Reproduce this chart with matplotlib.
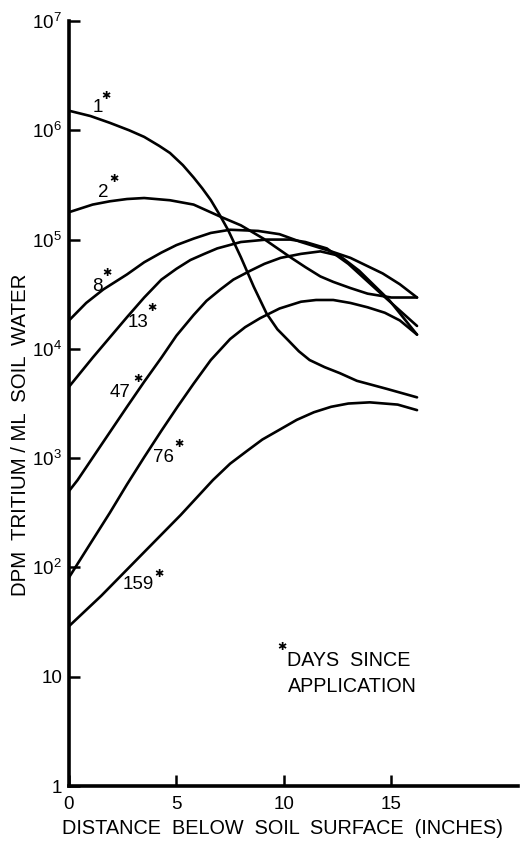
import matplotlib
matplotlib.use('Agg')
import matplotlib.pyplot as plt

plt.rcParams['font.family'] = ['Liberation Sans', 'DejaVu Sans']

# ---- data ----
x_day1 = [0, 1.0, 1.9, 2.8, 3.5, 4.2, 4.7, 5.3, 5.8, 6.2, 6.6, 7.0, 7.4, 8.0, 8.6, 9.2, 9.7,
          10.2, 10.7, 11.2, 11.9, 12.6, 13.4, 14.8, 16.2]
y_day1 = [1.51e6, 1.35e6, 1.17e6, 1.0e6, 8.7e5, 7.2e5, 6.2e5, 4.8e5, 3.7e5, 2.95e5, 2.3e5,
          1.70e5, 1.23e5, 6.9e4, 3.7e4, 2.1e4, 1.51e4, 1.2e4, 9.5e3, 7.9e3, 6.8e3, 6.0e3,
          5.1e3, 4.3e3, 3.6e3]

x_day2 = [0, 1.1, 1.9, 2.7, 3.5, 4.7, 5.8, 7.05, 8.0, 9.05, 10.3, 11.0, 11.7, 12.3, 13.1,
          13.9, 15.0, 16.2]
y_day2 = [1.78e5, 2.09e5, 2.24e5, 2.35e5, 2.40e5, 2.29e5, 2.09e5, 1.62e5, 1.35e5, 1.02e5,
          6.9e4, 5.6e4, 4.6e4, 4.1e4, 3.6e4, 3.2e4, 2.95e4, 2.95e4]

x_day8 = [0, 0.8, 1.6, 2.7, 3.5, 4.3, 5.0, 5.8, 6.6, 7.5, 8.8, 9.8, 10.8, 12.2, 13.1, 14.6,
          15.4, 16.2]
y_day8 = [1.82e4, 2.63e4, 3.5e4, 4.8e4, 6.2e4, 7.6e4, 8.9e4, 1.02e5, 1.15e5, 1.23e5,
          1.20e5, 1.12e5, 9.5e4, 7.8e4, 6.8e4, 4.9e4, 3.9e4, 2.95e4]

x_day13 = [0, 1.1, 2.7, 3.5, 4.3, 5.0, 5.65, 6.3, 6.9, 8.0, 9.2, 10.3, 11.0, 12.0, 13.0,
           14.6, 16.2]
y_day13 = [4.5e3, 8.3e3, 1.95e4, 2.95e4, 4.3e4, 5.4e4, 6.5e4, 7.4e4, 8.3e4, 9.5e4, 1.0e5,
           1.0e5, 9.5e4, 8.3e4, 6.0e4, 3.1e4, 1.62e4]

x_day47 = [0, 0.4, 1.5, 2.7, 3.5, 4.3, 5.0, 5.8, 6.4, 7.05, 7.65, 8.45, 9.1, 9.85, 10.8,
           11.7, 12.6, 13.5, 14.9, 16.2]
y_day47 = [5.0e2, 6.3e2, 1.32e3, 2.95e3, 5.0e3, 8.3e3, 1.32e4, 2.04e4, 2.75e4, 3.5e4,
           4.3e4, 5.2e4, 6.0e4, 6.8e4, 7.4e4, 7.8e4, 7.1e4, 5.2e4, 2.8e4, 1.35e4]

x_day76 = [0, 1.0, 1.9, 2.7, 3.5, 4.3, 5.05, 5.8, 6.6, 7.5, 8.2, 8.9, 9.8, 10.8, 11.5,
           12.3, 13.1, 13.9, 14.7, 15.4, 16.2]
y_day76 = [81, 166, 316, 575, 1.02e3, 1.78e3, 2.95e3, 4.8e3, 7.9e3, 1.23e4, 1.58e4,
           1.91e4, 2.34e4, 2.7e4, 2.8e4, 2.8e4, 2.63e4, 2.4e4, 2.14e4, 1.82e4, 1.35e4]

x_day159 = [0, 1.5, 3.3, 5.2, 6.7, 7.5, 8.3, 9.0, 9.8, 10.6, 11.4, 12.2, 13.0, 14.0, 15.3, 16.2]
y_day159 = [29, 55, 126, 302, 630, 890, 1.17e3, 1.48e3, 1.82e3, 2.24e3, 2.63e3, 2.95e3,
            3.16e3, 3.24e3, 3.09e3, 2.75e3]

day_labels = ['1', '2', '8', '13', '47', '76', '159']
x_ticks = [0, 5, 10, 15]
y_ticks = [1, 10, 1e2, 1e3, 1e4, 1e5, 1e6, 1e7]
y_tick_labels = ['1', '10', r'$\mathregular{10^{2}}$', r'$\mathregular{10^{3}}$',
                 r'$\mathregular{10^{4}}$', r'$\mathregular{10^{5}}$',
                 r'$\mathregular{10^{6}}$', r'$\mathregular{10^{7}}$']

series = [(x_day1, y_day1), (x_day2, y_day2), (x_day8, y_day8), (x_day13, y_day13),
          (x_day47, y_day47), (x_day76, y_day76), (x_day159, y_day159)]

# label placement (number position, asterisk position) in data coords
label_pos = [(1.33, 10**6.21), (1.60, 10**5.43), (1.33, 10**4.57), (3.19, 10**4.24),
             (2.40, 10**3.60), (4.40, 10**3.01), (3.23, 10**1.84)]
star_pos = [(1.72, 10**6.31), (2.09, 10**5.55), (1.76, 10**4.69), (3.88, 10**4.37),
            (3.21, 10**3.72), (5.11, 10**3.13), (4.20, 10**1.94)]

fig = plt.figure(figsize=(5.26, 8.47), dpi=100)
ax = fig.add_axes([69/526, 1-786/847, (518-69)/526, (786-21)/847])

for xs, ys in series:
    ax.plot(xs, ys, color='black', lw=1.9, solid_joinstyle='round', solid_capstyle='round')

ax.set_yscale('log')
ax.set_xlim(0, 20.9)
ax.set_ylim(1, 1e7)
ax.set_xticks(x_ticks)
ax.set_xticklabels([str(t) for t in x_ticks])
ax.set_yticks(y_ticks)
ax.set_yticklabels(y_tick_labels)
ax.yaxis.set_minor_locator(matplotlib.ticker.NullLocator())

for s in ['top', 'right']:
    ax.spines[s].set_visible(False)
for s in ['left', 'bottom']:
    ax.spines[s].set_linewidth(2.6)
    ax.spines[s].set_capstyle('projecting')

ax.tick_params(axis='both', direction='in', length=8, width=1.8, labelsize=13.5, color='black')
ax.tick_params(axis='x', pad=7)
ax.tick_params(axis='y', pad=5)

for lab, (lx, ly), (sx, sy) in zip(day_labels, label_pos, star_pos):
    ax.text(lx, ly, lab, fontsize=13.5, ha='center', va='center')
    ax.text(sx, sy, '\u2731', fontsize=8, ha='center', va='center',
            family=['DejaVu Sans'])

ax.text(9.93, 10**1.27, '\u2731', fontsize=8, ha='center', va='center', family=['DejaVu Sans'])
ax.text(10.16, 10**1.15, 'DAYS  SINCE', fontsize=14.2, ha='left', va='center')
ax.text(10.21, 10**0.906, 'APPLICATION', fontsize=14.2, ha='left', va='center')

fig.text(283/526, 1-828/847, 'DISTANCE  BELOW  SOIL  SURFACE  (INCHES)', fontsize=14.3,
         ha='center', va='center')
fig.text(21/526, 1-435/847, 'DPM  TRITIUM / ML  SOIL  WATER', rotation=90,
         fontsize=14.7, ha='center', va='center')

fig.savefig('out.png', dpi=100)
